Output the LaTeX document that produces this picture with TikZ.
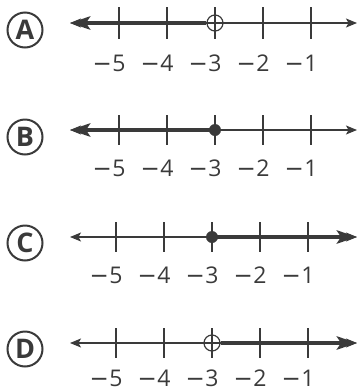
\documentclass[tikz,border=0pt]{standalone}
\usepackage{fontspec}
\setmainfont{Open Sans}
\newfontfamily\symfont{DejaVu Sans}
\usetikzlibrary{arrows.meta}
\definecolor{ink}{HTML}{3A3A3A}
\newcommand{\mns}{{\symfont −}} % long minus sign

\begin{document}
\begin{tikzpicture}[x = 1pt, y = -1pt]
% Styles ---
\tikzstyle{axis} = [line width = 1.2pt, draw = ink, {Stealth[length = 11pt, width = 9pt, inset = 2.5pt]}-{Stealth[length = 11pt, width = 9pt, inset = 2.5pt]}] % Number line
\tikzstyle{tick} = [line width = 1.2pt, draw = ink] % Tick marks
\tikzstyle{ray} = [line width = 4.5pt, draw = ink] % Solution set
\tikzstyle{rayhead} = [-{Stealth[length = 20pt, width = 13pt, inset = 4pt]}] % Solution set arrow
\tikzstyle{lbl} = [font = \fontsize{23}{23}\selectfont, text = ink, inner sep = 0pt] % Tick labels
\tikzstyle{tag} = [circle, line width = 2pt, draw = ink, minimum size = 35pt, inner sep = 0pt, text = ink, font = \fontsize{27}{27}\selectfont\bfseries] % Choice letters
\tikzstyle{opendot} = [circle, line width = 1.2pt, draw = ink, minimum size = 16pt, inner sep = 0pt] % Open endpoint
\tikzstyle{fulldot} = [circle, fill = ink, minimum size = 12pt, inner sep = 0pt] % Closed endpoint
\useasboundingbox (0,0) rectangle (358,392);
% Choice A ---
\node at (25,30) [tag] (tA) {A};
\coordinate (aL) at (70,23);
\coordinate (aR) at (357,23);
\path [axis] (aL) -- (aR);
\foreach \x/\n in {119/5, 167/4, 215/3, 263/2, 311/1} {
  \draw [tick] (\x,7) -- (\x,39);
  \node at (\x,63.5) [lbl] {\llap{\mns\kern0.5pt}\n};
}
\node at (215,23) [opendot] (a3) {};
\draw [ray, rayhead] (a3) -- (aL);
% Choice B ---
\node at (25,137) [tag] (tB) {B};
\coordinate (bL) at (70,130);
\coordinate (bR) at (357,130);
\path [axis] (bL) -- (bR);
\foreach \x/\n in {119/5, 167/4, 215/3, 263/2, 311/1} {
  \draw [tick] (\x,115) -- (\x,145);
  \node at (\x,168.5) [lbl] {\llap{\mns\kern0.5pt}\n};
}
\coordinate (b3) at (215,130);
\draw [ray, rayhead] (b3) -- (bL);
\node at (b3) [fulldot] {};
% Choice C ---
\node at (25,243) [tag] (tC) {C};
\coordinate (cL) at (70,237);
\coordinate (cR) at (357,237);
\path [axis] (cL) -- (cR);
\foreach \x/\n in {116/5, 164/4, 212/3, 260/2, 308/1} {
  \draw [tick] (\x,222) -- (\x,252);
  \node at (\x,275) [lbl] {\llap{\mns\kern0.5pt}\n};
}
\coordinate (c3) at (212,237);
\draw [ray, rayhead] (c3) -- (cR);
\node at (c3) [fulldot] {};
% Choice D ---
\node at (25,349) [tag] (tD) {D};
\coordinate (dL) at (70,343);
\coordinate (dR) at (357,343);
\path [axis] (dL) -- (dR);
\foreach \x/\n in {116/5, 164/4, 212/3, 260/2, 308/1} {
  \draw [tick] (\x,328) -- (\x,358);
  \node at (\x,378) [lbl] {\llap{\mns\kern0.5pt}\n};
}
\node at (212,343) [opendot] (d3) {};
\draw [ray, rayhead] (d3) -- (dR);
\end{tikzpicture}
\end{document}
